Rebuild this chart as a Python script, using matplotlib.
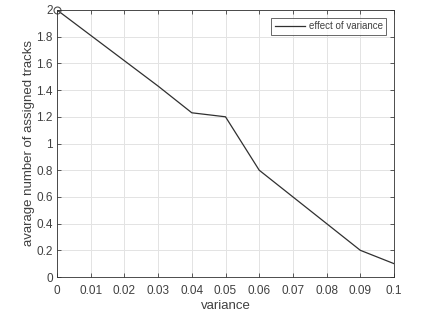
import matplotlib
matplotlib.use("Agg")
import matplotlib.pyplot as plt
import numpy as np

variance = [0, 0.01, 0.02, 0.03, 0.04, 0.05, 0.06, 0.07, 0.08, 0.09, 0.1]
avg_tracks = [2.0, 1.81, 1.62, 1.43, 1.23, 1.20, 0.80, 0.60, 0.40, 0.20, 0.10]

plt.rcParams['font.family'] = ['Liberation Sans', 'DejaVu Sans']
grey = '#404040'

fig = plt.figure(figsize=(4.36, 3.13), dpi=100)
ax = fig.add_axes([57 / 436, 1 - 277 / 313, 337 / 436, 267 / 313])

ax.plot(variance, avg_tracks, color='#303030', lw=0.9,
        label='effect of variance')
# circle on the first point only
ax.plot(variance[:1], avg_tracks[:1], 'o', ms=5, mfc='none', mec='#505050',
        mew=0.8, clip_on=False)

ax.set_xlim(0, 0.1)
ax.set_ylim(0, 2)
ax.set_xticks(np.arange(0, 0.1001, 0.01))
ax.set_xticklabels(['0', '0.01', '0.02', '0.03', '0.04', '0.05', '0.06',
                    '0.07', '0.08', '0.09', '0.1'])
ax.set_yticks(np.arange(0, 2.01, 0.2))
ax.set_yticklabels(['0', '0.2', '0.4', '0.6', '0.8', '1', '1.2', '1.4',
                    '1.6', '1.8', '2'])
ax.grid(True, color='#e3e3e3', lw=0.7)
ax.set_axisbelow(True)
ax.tick_params(direction='in', top=True, right=True, length=3,
               width=0.6, colors=grey, labelsize=8.5)
ax.tick_params(axis='x', pad=6)
ax.tick_params(axis='y', pad=3)
for s in ax.spines.values():
    s.set_color('#303030')
    s.set_linewidth(0.6)

ax.set_xlabel('variance', fontsize=9.5, color=grey, labelpad=2)
ax.set_ylabel('avarage number of assigned tracks', fontsize=9.5, color=grey,
              labelpad=1)

leg = ax.legend(loc='upper right', fontsize=7, frameon=True, fancybox=False,
                handlelength=3.1, borderpad=0.35, borderaxespad=0.8,
                handletextpad=0.4, labelcolor=grey)
leg.get_frame().set_edgecolor('#404040')
leg.get_frame().set_linewidth(0.7)

fig.savefig('out.png', dpi=100)
